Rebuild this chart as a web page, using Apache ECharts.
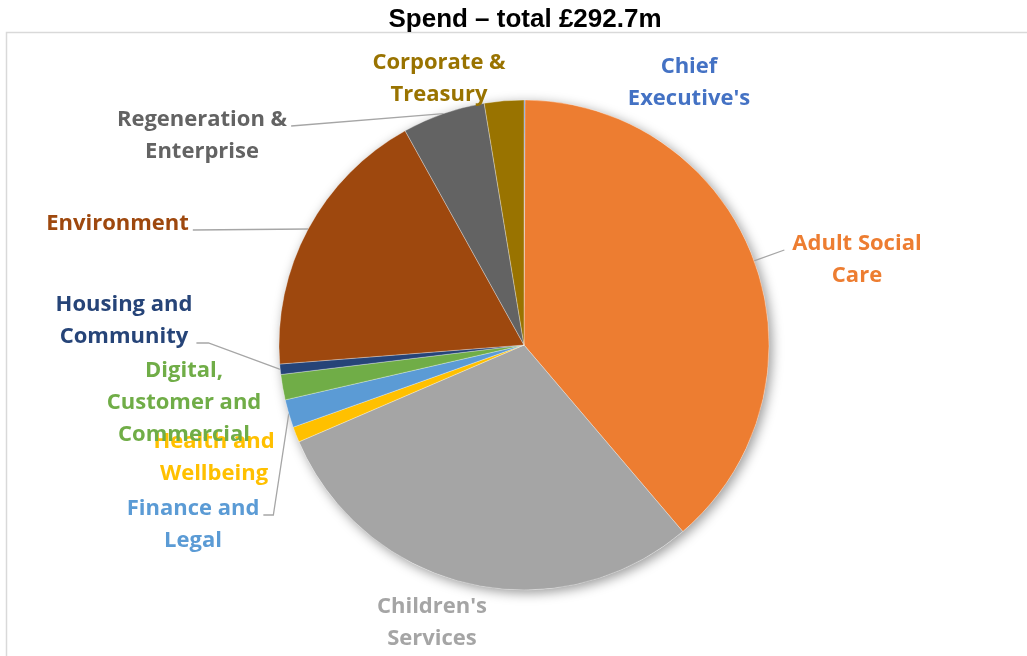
<!DOCTYPE html>
<html>
<head>
<meta charset="utf-8">
<script src="https://cdn.jsdelivr.net/npm/echarts@6/dist/echarts.min.js"></script>
<style>
  html, body { margin: 0; padding: 0; background: #fff; }
  #chart { width: 1027px; height: 656px; }
</style>
</head>
<body>
<div id="chart"></div>
<script>
// Departmental spend, £m (total £292.7m), clockwise from 12 o'clock
const departments = [
  "Chief\nExecutive's",
  "Adult Social\nCare",
  "Children's\nServices",
  "Health and\nWellbeing",
  "Finance and\nLegal",
  "Digital,\nCustomer and\nCommercial",
  "Housing and\nCommunity",
  "Environment",
  "Regeneration &\nEnterprise",
  "Corporate &\nTreasury"
];
const spendMillions = [0.2, 113.3, 87.1, 3.0, 5.4, 4.9, 2.0, 53.2, 16.0, 7.6];
const sliceColours = [
  '#4472C4', '#ED7D31', '#A5A5A5', '#FFC000', '#5B9BD5',
  '#70AD47', '#264478', '#9E480E', '#636363', '#997300'
];

// Pie geometry
const CX = 524, CY = 345, R = 245;
const LINE_H = 32;

// Where each label block sits, and which side its leader line attaches to
const labelSpots = [
  { x: 689, y: 83 },
  { x: 857, y: 260, side: 'left', line: 0 },
  { x: 432, y: 623 },
  { x: 214, y: 458 },
  { x: 193, y: 525, side: 'right', line: 0, elbow: 10 },
  { x: 184, y: 403 },
  { x: 124, y: 321, side: 'right', line: 1, elbow: 12 },
  { x: 117.5, y: 224, side: 'right', line: 0 },
  { x: 202, y: 136, side: 'right', line: 0 },
  { x: 439, y: 79 }
];

const total = spendMillions.reduce((a, b) => a + b, 0);

// Point on the rim at the middle of a slice
function rimPoint(i) {
  let before = 0;
  for (let k = 0; k < i; k++) before += spendMillions[k];
  const frac = (before + spendMillions[i] / 2) / total;
  const a = frac * 2 * Math.PI;
  return [CX + R * Math.sin(a), CY - R * Math.cos(a)];
}

const pieData = departments.map((name, i) => ({
  name: name,
  value: spendMillions[i],
  itemStyle: { color: sliceColours[i] },
  label: { color: sliceColours[i] },
  labelLine: { show: !!labelSpots[i].side }
}));

const chart = echarts.init(document.getElementById('chart'), null, { renderer: 'canvas' });

chart.setOption({
  animation: false,
  title: {
    text: 'Spend \u2013 total \u00a3292.7m',
    left: 520,
    top: 2,
    textAlign: 'center',
    textStyle: {
      fontFamily: 'Liberation Sans',
      fontWeight: 'bold',
      fontSize: 26,
      color: '#000'
    }
  },
  graphic: [{
    type: 'rect',
    z: -10,
    silent: true,
    shape: { x: 6.5, y: 32.5, width: 1100, height: 700 },
    style: { fill: 'none', stroke: '#d9d9d9', lineWidth: 1.5 }
  }],
  series: [
    {
      // soft drop shadow behind the pie
      type: 'pie',
      silent: true,
      z: 1,
      center: [CX, CY],
      radius: R,
      data: [{ value: 1, itemStyle: { color: '#fff' } }],
      itemStyle: {
        shadowBlur: 12,
        shadowColor: 'rgba(0,0,0,0.4)',
        shadowOffsetX: 3,
        shadowOffsetY: 3
      },
      label: { show: false },
      labelLine: { show: false }
    },
    {
      type: 'pie',
      z: 2,
      center: [CX, CY],
      radius: R,
      startAngle: 90,
      clockwise: true,
      avoidLabelOverlap: false,
      minAngle: 0,
      itemStyle: { borderColor: 'rgba(255,255,255,0.6)', borderWidth: 0.5 },
      label: {
        show: true,
        position: 'outside',
        fontFamily: 'Open Sans',
        fontWeight: 'bold',
        fontSize: 22,
        lineHeight: LINE_H,
        align: 'center'
      },
      labelLine: {
        show: true,
        length: 10,
        length2: 10,
        lineStyle: { color: '#a6a6a6', width: 1.3 }
      },
      emphasis: { disabled: true },
      labelLayout: function (params) {
        const i = params.dataIndex;
        const s = labelSpots[i];
        const out = { x: s.x, y: s.y, align: 'center', verticalAlign: 'middle' };
        if (s.side) {
          const w = params.labelRect.width;
          const h = params.labelRect.height;
          const top = s.y - h / 2;
          const ly = top + LINE_H * (s.line + 0.5) + 6;
          const lx = s.side === 'right' ? s.x + w / 2 + 4 : s.x - w / 2 - 8;
          const pts = [rimPoint(i)];
          if (s.elbow) pts.push([lx + (s.side === 'right' ? s.elbow : -s.elbow), ly]);
          pts.push([lx, ly]);
          out.labelLinePoints = pts;
        }
        return out;
      },
      data: pieData
    }
  ]
});
</script>
</body>
</html>
